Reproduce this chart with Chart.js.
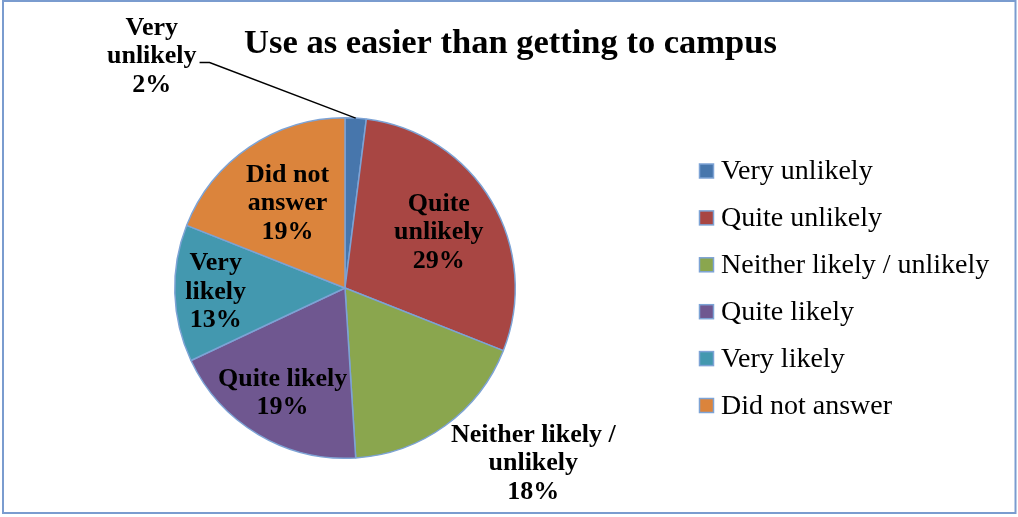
<!DOCTYPE html>
<html>
<head>
<meta charset="utf-8">
<script src="https://cdn.jsdelivr.net/npm/chart.js@4.4.1/dist/chart.umd.min.js"></script>
<style>
  html, body { margin: 0; padding: 0; background: #ffffff; }
  #wrap { position: relative; width: 1018px; height: 517px; }
</style>
</head>
<body>
<div id="wrap"><canvas id="c" width="1018" height="517"></canvas></div>
<script>
// Survey answers, shown as percentages of respondents
const categories = ['Very unlikely', 'Quite unlikely', 'Neither likely / unlikely', 'Quite likely', 'Very likely', 'Did not answer'];
const percentages = [2, 29, 18, 19, 13, 19];
const chartTitle = 'Use as easier than getting to campus';

// Label text inside/next to each slice (category name split over lines)
const sliceLabelLines = [
  ['Very', 'unlikely'],
  ['Quite', 'unlikely'],
  ['Neither likely /', 'unlikely'],
  ['Quite likely'],
  ['Very', 'likely'],
  ['Did not', 'answer']
];

// Styling
const sliceColors = ['#4776AC', '#A84643', '#8AA64E', '#6F5790', '#4398AF', '#DB843C'];
const sliceEdge = '#7DA3D5';
const SERIF = '"Liberation Serif", "DejaVu Serif", serif';

// Where each label sits: either along the slice's middle angle at a fraction
// of the radius, or at an offset from the centre (in radius units).
const labelPlacement = [
  { dx: -1.135, dy: -1.36, leader: true },
  { f: 0.64 },
  { dx: 1.106, dy: 1.03 },
  { f: 0.72 },
  { f: 0.76 },
  { f: 0.60 }
];

const decorations = {
  id: 'decorations',
  afterDraw(chart) {
    const ctx = chart.ctx;
    const meta = chart.getDatasetMeta(0);
    const ds = chart.data.datasets[0];

    ctx.save();

    // Outer frame
    ctx.strokeStyle = '#7A9CCF';
    ctx.lineWidth = 2;
    ctx.strokeRect(3, 1, 1012.5, 512);

    // Title
    ctx.fillStyle = '#000000';
    ctx.font = 'bold 34.5px ' + SERIF;
    ctx.textAlign = 'center';
    ctx.textBaseline = 'alphabetic';
    ctx.fillText(chartTitle, 510.5, 53);

    // Legend
    const legX = 699.5, legY0 = 171, legStep = 46.9, box = 14;
    ctx.font = '28px ' + SERIF;
    ctx.textAlign = 'left';
    ctx.textBaseline = 'middle';
    chart.data.labels.forEach((lab, i) => {
      const cy = legY0 + i * legStep;
      ctx.fillStyle = ds.backgroundColor[i];
      ctx.fillRect(legX, cy - box / 2, box, box);
      ctx.strokeStyle = sliceEdge;
      ctx.lineWidth = 1.5;
      ctx.strokeRect(legX, cy - box / 2, box, box);
      ctx.fillStyle = '#000000';
      ctx.fillText(lab, 721, cy + 1);
    });

    // Slice labels
    ctx.font = 'bold 26px ' + SERIF;
    ctx.textAlign = 'center';
    ctx.textBaseline = 'middle';
    const lineH = 28.5;
    meta.data.forEach((arc, i) => {
      const p = labelPlacement[i];
      const cx = arc.x, cy = arc.y, R = arc.outerRadius;
      const mid = (arc.startAngle + arc.endAngle) / 2;
      let x, y;
      if (p.f !== undefined) {
        x = cx + Math.cos(mid) * R * p.f;
        y = cy + Math.sin(mid) * R * p.f;
      } else {
        x = cx + p.dx * R;
        y = cy + p.dy * R;
      }
      const lines = sliceLabelLines[i].concat([percentages[i] + '%']);
      const y0 = y - (lines.length - 1) * lineH / 2;
      ctx.fillStyle = '#000000';
      let maxW = 0;
      lines.forEach((t, k) => {
        ctx.fillText(t, x, y0 + k * lineH);
        maxW = Math.max(maxW, ctx.measureText(t).width);
      });
      if (p.leader) {
        const ly = y + 6;
        const lx = x + maxW / 2 + 3;
        ctx.strokeStyle = '#000000';
        ctx.lineWidth = 1.5;
        ctx.beginPath();
        ctx.moveTo(lx, ly);
        ctx.lineTo(lx + 10, ly);
        ctx.lineTo(cx + Math.cos(mid) * R, cy + Math.sin(mid) * R);
        ctx.stroke();
      }
    });

    ctx.restore();
  }
};

new Chart(document.getElementById('c'), {
  type: 'pie',
  data: {
    labels: categories,
    datasets: [{
      data: percentages,
      backgroundColor: sliceColors,
      borderColor: sliceEdge,
      borderWidth: 1.5
    }]
  },
  options: {
    responsive: false,
    animation: false,
    layout: { padding: { left: 174, right: 502, top: 117, bottom: 58 } },
    plugins: {
      legend: { display: false },
      title: { display: false },
      tooltip: { enabled: false }
    }
  },
  plugins: [decorations]
});
</script>
</body>
</html>
